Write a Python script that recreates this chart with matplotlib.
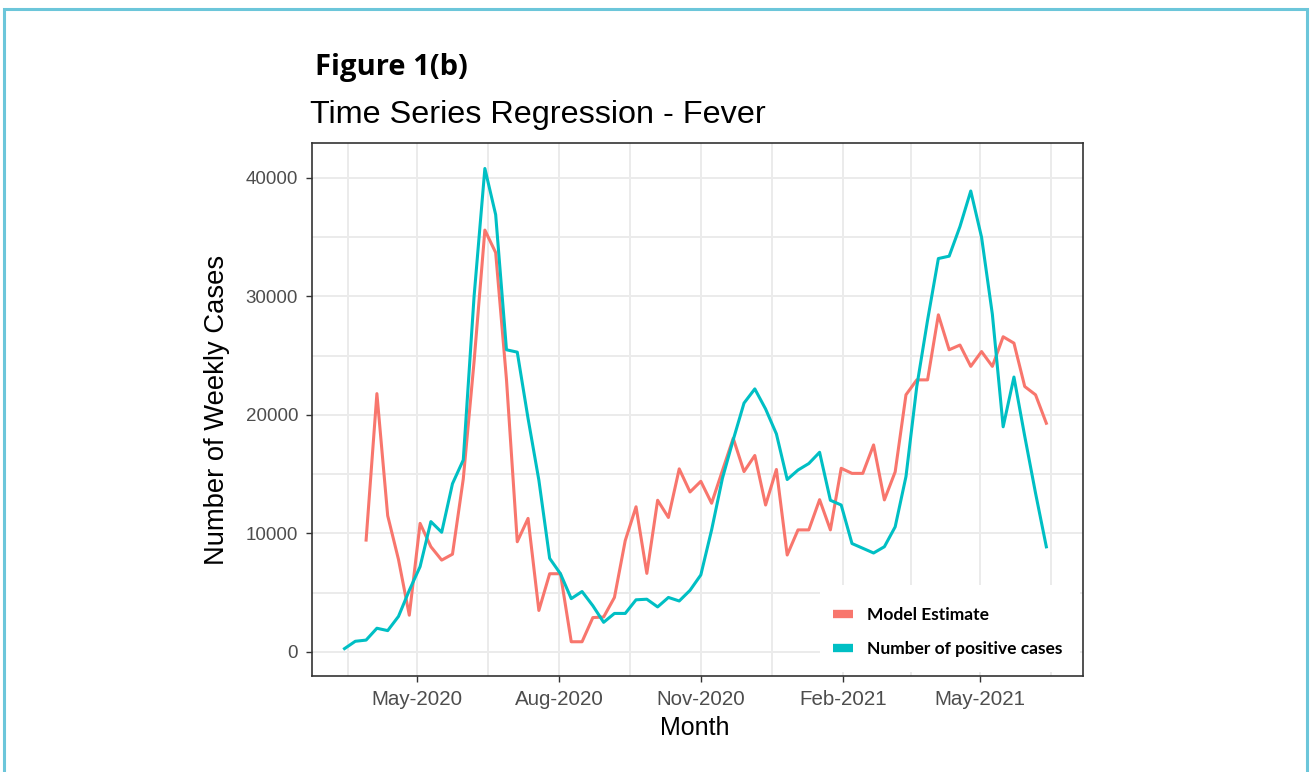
import matplotlib
matplotlib.use("Agg")
import matplotlib.pyplot as plt
import matplotlib.dates as mdates
from matplotlib.patches import Rectangle
from matplotlib.lines import Line2D
import numpy as np
import pandas as pd

# ---------------- data ----------------
week_start = "2020-03-15"
n_weeks = 66
weeks = pd.date_range(week_start, periods=n_weeks, freq="7D")

positive_cases = [
    280, 900, 1000, 2000, 1800, 3000, 5200, 7200, 11000, 10100,
    14200, 16200, 30000, 40800, 36900, 25500, 25300, 19700, 14500, 7900,
    6600, 4500, 5100, 3900, 2500, 3250, 3250, 4400, 4450, 3800,
    4600, 4300, 5200, 6500, 10300, 14650, 17900, 21000, 22200, 20500,
    18400, 14550, 15350, 15900, 16850, 12800, 12400, 9150, 8750, 8350,
    8880, 10560, 14800, 22400, 28000, 33200, 33400, 35900, 38900, 35000,
    28500, 19000, 23200, 18200, 13400, 8870,
]

model_estimate = [
    np.nan, np.nan, 9440, 21800, 11500, 7800, 3100, 10850, 8880, 7750,
    8250, 14600, 24500, 35600, 33700, 23000, 9300, 11270, 3500, 6600,
    6600, 860, 860, 2900, 2950, 4600, 9400, 12250, 6630, 12800,
    11350, 15450, 13500, 14400, 12550, 15300, 18030, 15220, 16580, 12400,
    15400, 8180, 10300, 10300, 12850, 10300, 15500, 15070, 15070, 17470,
    12830, 15200, 21700, 22960, 22960, 28450, 25500, 25900, 24100, 25350,
    24100, 26600, 26060, 22400, 21700, 19300,
]

series_names = ["Model Estimate", "Number of positive cases"]
series_colors = ["#F8766D", "#00BFC4"]

major_dates = ["2020-05-01", "2020-08-01", "2020-11-01", "2021-02-01", "2021-05-01"]
y_major = [0, 10000, 20000, 30000, 40000]
y_minor = [5000, 15000, 25000, 35000]

# ---------------- figure ----------------
W, H = 1312, 772
fig = plt.figure(figsize=(W / 100, H / 100), dpi=100)
fig.patch.set_facecolor("white")

def fx(px):
    return px / W

def fy(py):
    return 1 - py / H

sans = ["Liberation Sans", "DejaVu Sans"]
plt.rcParams["font.family"] = sans

L, R, T, B = 312, 1083, 143, 676
ax = fig.add_axes([fx(L), fy(B), fx(R) - fx(L), fy(T) - fy(B)])
ax.set_axisbelow(True)

ax.plot(weeks, model_estimate, color=series_colors[0], lw=2.2, zorder=3)
ax.plot(weeks, positive_cases, color=series_colors[1], lw=2.2, zorder=3)

# axis limits (ggplot-like expansion)
x0 = mdates.date2num(pd.Timestamp("2020-05-01")) - (417 - L) / 1.5425
x1 = mdates.date2num(pd.Timestamp("2020-05-01")) + (R - 417) / 1.5425
ax.set_xlim(x0, x1)
ax.set_ylim(-2030, 42950)

maj = [mdates.date2num(pd.Timestamp(d)) for d in major_dates]
mins = [maj[0] - (maj[0] - mdates.date2num(pd.Timestamp("2020-02-01"))) / 2]
mins += [(a + b) / 2 for a, b in zip(maj[:-1], maj[1:])]
mins += [maj[-1] + (mdates.date2num(pd.Timestamp("2021-08-01")) - maj[-1]) / 2]
ax.set_xticks(maj)
ax.set_xticks(mins, minor=True)
ax.xaxis.set_major_formatter(mdates.DateFormatter("%b-%Y"))
ax.set_yticks(y_major)
ax.set_yticks(y_minor, minor=True)

ax.grid(True, which="both", color="#ebebeb", lw=1.4)
ax.tick_params(which="minor", length=0)
ax.tick_params(which="major", length=4, width=1.0, color="#333333",
               labelcolor="#4d4d4d")
ax.tick_params(axis="y", pad=6, labelsize=13.5)
ax.tick_params(axis="x", pad=6, labelsize=14.8)
for s in ax.spines.values():
    s.set_color("#333333")
    s.set_linewidth(1.2)

# legend background box
ax.add_patch(Rectangle((fx(820), fy(672)), fx(1080) - fx(820), fy(585) - fy(672),
                       transform=fig.transFigure, facecolor="white", edgecolor="none", zorder=1))

handles = [Line2D([], [], color=c, lw=6, solid_capstyle="butt") for c in series_colors]
leg = fig.legend(handles, series_names, loc="center left",
                 bbox_to_anchor=(fx(819), fy(632)), frameon=False,
                 handlelength=1.15, handletextpad=0.8, labelspacing=1.0,
                 borderpad=0.3,
                 prop={"family": ["Lato", "DejaVu Sans"], "weight": "bold", "size": 12.5})

# titles and axis labels
fig.text(fx(315), fy(67), "Figure 1(b)", ha="left", va="center",
         fontsize=21, fontweight="bold", family=["Open Sans", "DejaVu Sans"])
fig.text(fx(310), fy(115), "Time Series Regression - Fever", ha="left", va="center",
         fontsize=23.3, family=sans)
fig.text(fx(217), fy(410), "Number of Weekly Cases", ha="center", va="center",
         rotation=90, fontsize=19.7, family=sans)
fig.text(fx(695), fy(728), "Month", ha="center", va="center", fontsize=18, family=sans)

# outer light-blue frame
fig.add_artist(Rectangle((fx(4), fy(790)), fx(1307) - fx(4), fy(9) - fy(790),
                         transform=fig.transFigure, facecolor="none",
                         edgecolor="#6cc6da", lw=2.2, clip_on=False))

fig.savefig("out.png", dpi=100)
